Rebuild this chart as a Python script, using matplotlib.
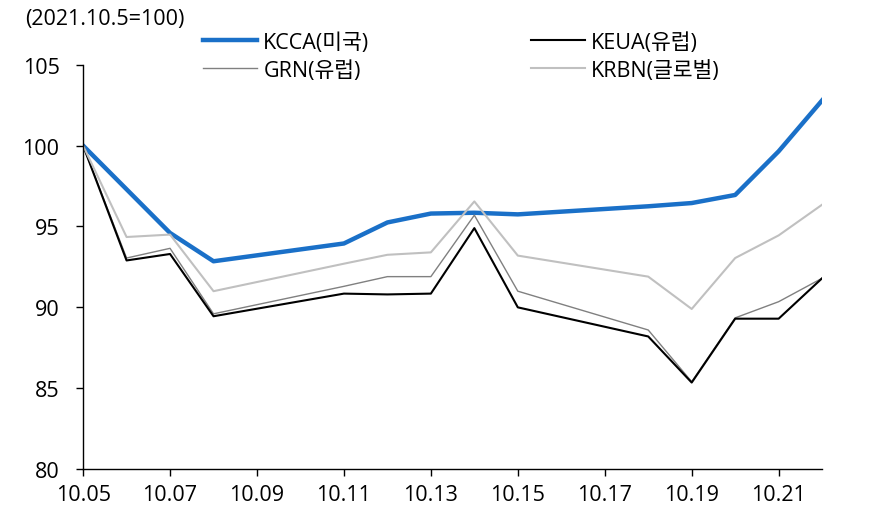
import matplotlib
matplotlib.use('Agg')
import matplotlib.pyplot as plt

plt.rcParams['font.family'] = ['Open Sans', 'Noto Sans CJK KR', 'DejaVu Sans']

# trading days (month.day), index 2021.10.5 = 100
dates = ['10.05', '10.06', '10.07', '10.08', '10.11', '10.12', '10.13',
         '10.14', '10.15', '10.18', '10.19', '10.20', '10.21', '10.22']
kcca = [100.0, 97.3, 94.6, 92.85, 93.95, 95.25, 95.8,
        95.85, 95.75, 96.25, 96.45, 96.95, 99.65, 102.8]
keua = [100.0, 92.9, 93.3, 89.45, 90.85, 90.8, 90.85,
        94.9, 90.0, 88.2, 85.35, 89.3, 89.3, 91.8]
grn = [100.0, 93.05, 93.65, 89.6, 91.3, 91.9, 91.9,
       95.7, 91.0, 88.6, 85.4, 89.35, 90.35, 91.8]
krbn = [100.0, 94.35, 94.5, 91.0, 92.7, 93.25, 93.4,
        96.55, 93.2, 91.9, 89.9, 93.05, 94.45, 96.35]

tick_days = list(range(5, 22, 2))
tick_labels = ['10.%02d' % d for d in tick_days]

days = [int(d.split('.')[1]) for d in dates]

fig = plt.figure(figsize=(8.84, 5.06), dpi=100)
ax = fig.add_axes([0.094, 0.071, 0.836, 0.799])

l_kcca, = ax.plot(days, kcca, color='#1a70c8', linewidth=3.2, label='KCCA(미국)')
l_grn, = ax.plot(days, grn, color='#808080', linewidth=1.0, label='GRN(유럽)')
l_keua, = ax.plot(days, keua, color='black', linewidth=1.5, label='KEUA(유럽)')
l_krbn, = ax.plot(days, krbn, color='#c0c0c0', linewidth=1.5, label='KRBN(글로벌)')

ax.set_xlim(5, 22)
ax.set_ylim(80, 105)
ax.set_xticks(tick_days)
ax.set_xticklabels(tick_labels)
ax.set_yticks([80, 85, 90, 95, 100, 105])
ax.tick_params(axis='both', direction='out', length=5, width=1,
               labelsize=15.5, colors='black')
ax.tick_params(axis='y', pad=12)
ax.tick_params(axis='x', pad=6)
for s in ['top', 'right']:
    ax.spines[s].set_visible(False)
for s in ['left', 'bottom']:
    ax.spines[s].set_linewidth(1)

fig.legend(handles=[l_kcca, l_grn, l_keua, l_krbn], ncol=2, frameon=False,
           fontsize=15.5, handlelength=2.5, handletextpad=0.3,
           columnspacing=7.5, labelspacing=0.32, borderpad=0,
           borderaxespad=0, loc='upper left',
           bbox_to_anchor=(203 / 884, 1 - 33 / 506))

fig.text(25 / 884, 1 - 19 / 506, '(2021.10.5=100)', fontsize=15.5,
         va='center', ha='left')

fig.savefig('out.png', dpi=100)
